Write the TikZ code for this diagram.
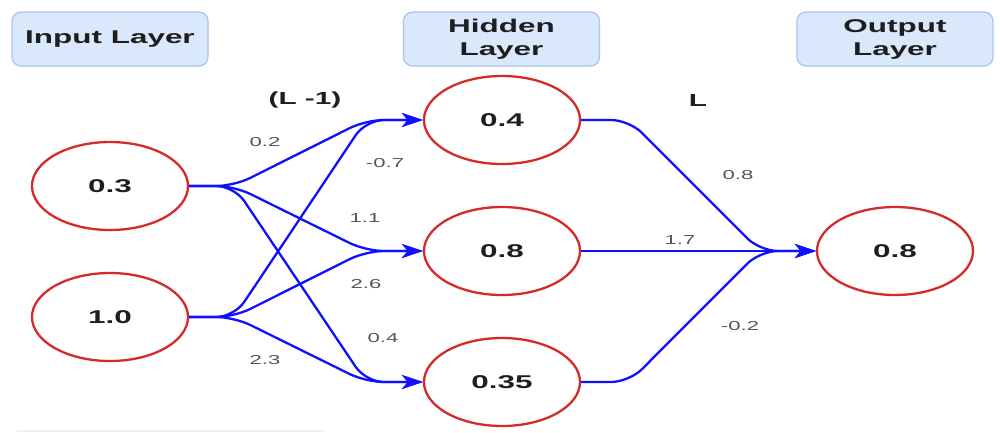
\documentclass[tikz,border=0pt]{standalone}
\usepackage{fontspec}
\usepackage{graphicx}
\setmainfont{Liberation Sans}
\usetikzlibrary{shapes.geometric,arrows.meta}
\definecolor{boxfill}{HTML}{DAE8FC}
\definecolor{boxdraw}{HTML}{A9C4E8}
\definecolor{nodered}{HTML}{D42A2A}
\definecolor{edgeblue}{HTML}{1010FF}
\definecolor{labgray}{HTML}{555555}
\definecolor{txt}{HTML}{1E1E1E}
\newcommand{\wtext}[1]{\scalebox{1.7}[1]{#1}}
\begin{document}
\begin{tikzpicture}[x=1pt,y=-1pt,
  layerbox/.style={draw=boxdraw,line width=1.2pt,fill=boxfill,rounded corners=9pt,
    minimum width=196pt,minimum height=54pt,inner sep=0pt,align=center,
    text=txt,font=\fontsize{18.5}{23}\selectfont\bfseries},
  neuron/.style={ellipse,draw=nodered,line width=2.3pt,minimum width=156pt,
    minimum height=88pt,inner sep=0pt,text=txt,font=\fontsize{18.5}{22}\selectfont\bfseries},
  edge/.style={draw=edgeblue,line width=2.3pt,rounded corners=18pt},
  arr/.style={edge,-{Stealth[length=21pt,width=14pt,inset=6pt]}},
  wlab/.style={text=labgray,font=\fontsize{13}{15}\selectfont,inner sep=1pt},
  title/.style={text=txt,font=\fontsize{17.5}{20}\selectfont\bfseries}]
\useasboundingbox (0,0) rectangle (1000,432);
\fill[black!6] (17,429.5) rectangle (323,432);
% layer boxes
\node[layerbox] (bin) at (110,39) {\wtext{Input Layer}};
\node[layerbox] (bhid) at (501.5,39) {\wtext{Hidden}\\\wtext{Layer}};
\node[layerbox] (bout) at (895,39) {\wtext{Output}\\\wtext{Layer}};
% titles
\node[title] (tl1) at (305,100) {\wtext{(L -1)}};
\node[title] (tl) at (698,100) {\wtext{L}};
% neurons
\node[neuron] (i1) at (110,186) {\wtext{0.3}};
\node[neuron] (i2) at (110,317) {\wtext{1.0}};
\node[neuron] (h1) at (502,120) {\wtext{0.4}};
\node[neuron] (h2) at (502,251) {\wtext{0.8}};
\node[neuron] (h3) at (502,382) {\wtext{0.35}};
\node[neuron] (o1) at (895,251) {\wtext{0.8}};
% edges input -> hidden
\foreach \s in {i1,i2}{
  \foreach \t in {h1,h2,h3}{
    \draw[arr] (\s.east) -- ++(45,0) -- ([xshift=-57pt]\t.west) -- (\t.west);
  }
}
% edges hidden -> output
\foreach \s in {h1,h2,h3}{
  \draw[arr] (\s.east) -- ++(48,0) -- ([xshift=-56pt]o1.west) -- (o1.west);
}
% weight labels
\node[wlab] (w1) at (265,142) {\wtext{0.2}};
\node[wlab] (w2) at (385,163) {\wtext{-0.7}};
\node[wlab] (w3) at (365,218) {\wtext{1.1}};
\node[wlab] (w4) at (366,284) {\wtext{2.6}};
\node[wlab] (w5) at (383,338) {\wtext{0.4}};
\node[wlab] (w6) at (265,360) {\wtext{2.3}};
\node[wlab] (w7) at (738,175) {\wtext{0.8}};
\node[wlab] (w8) at (680,240) {\wtext{1.7}};
\node[wlab] (w9) at (740,326) {\wtext{-0.2}};
\end{tikzpicture}
\end{document}
